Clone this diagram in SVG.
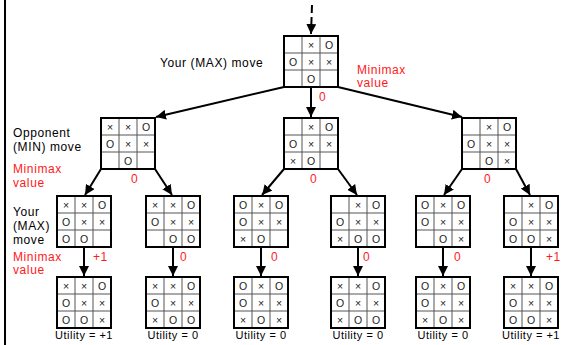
<svg xmlns="http://www.w3.org/2000/svg" width="565" height="345" viewBox="0 0 565 345">
  <defs>
    <style>
      .frame { fill: #fff; stroke: #000; stroke-width: 2; }
      .grid { stroke: #555; stroke-width: 1; fill: none; }
      .mk { font-family: "Liberation Sans", Arial, sans-serif; font-size: 10.5px; fill: #222; text-anchor: middle; }
      .lbl { font-family: "Liberation Sans", Arial, sans-serif; font-size: 12px; letter-spacing: 0.6px; fill: #000; }
      .red { font-family: "Liberation Sans", Arial, sans-serif; font-size: 12px; letter-spacing: 0.6px; fill: #ff1a1a; }
      .util { font-family: "Liberation Sans", Arial, sans-serif; font-size: 11px; letter-spacing: 0.5px; fill: #000; text-anchor: middle; }
      .edge { stroke: #000; stroke-width: 2; fill: none; marker-end: url(#arrow); }
      .dash { stroke-dasharray: 8 4; }
    </style>
    <marker id="arrow" viewBox="0 0 10 10" refX="10" refY="5" markerWidth="5" markerHeight="5" markerUnits="strokeWidth" orient="auto">
      <path d="M0,0 L10,5 L0,10 Z" fill="#000"/>
    </marker>
    <symbol id="board" overflow="visible">
      <rect class="frame" x="0" y="0" width="54" height="51"/>
      <path class="grid" d="M18,1 V50 M36,1 V50 M1,17 H53 M1,34 H53"/>
      <rect x="0" y="0" width="54" height="51" fill="none" stroke="#000" stroke-width="2"/>
    </symbol>
  </defs>

  <!-- page rule on the left -->
  <line x1="5" y1="0" x2="5" y2="345" stroke="#000" stroke-width="2"/>

  <!-- connectors -->
  <g id="connectors">
    <path class="edge dash" d="M312,5 L311,34"/>
    <path class="edge" d="M284,87 L156,117"/>
    <path class="edge" d="M311,87 L311,117"/>
    <path class="edge" d="M338,87 L462,117"/>
    <path class="edge" d="M101,169 L85,195"/>
    <path class="edge" d="M155,169 L172,195"/>
    <path class="edge" d="M284,169 L262,195"/>
    <path class="edge" d="M338,169 L357,195"/>
    <path class="edge" d="M462,169 L444,195"/>
    <path class="edge" d="M516,169 L530,195"/>
    <path class="edge" d="M84,248 V276"/>
    <path class="edge" d="M173,248 V276"/>
    <path class="edge" d="M261,248 V276"/>
    <path class="edge" d="M358,248 V276"/>
    <path class="edge" d="M443,248 V276"/>
    <path class="edge" d="M531,248 V276"/>
  </g>

  <!-- root: your (MAX) move -->
  <g id="root" transform="translate(284,36)">
    <use href="#board"/>
    <text class="mk" x="27" y="12.5">×</text><text class="mk" x="45" y="12.5">O</text>
    <text class="mk" x="9" y="29.5">O</text><text class="mk" x="27" y="29.5">×</text><text class="mk" x="45" y="29.5">×</text>
    <text class="mk" x="27" y="46.5">O</text>
  </g>

  <!-- opponent (MIN) level -->
  <g id="min-left" transform="translate(101,118)">
    <use href="#board"/>
    <text class="mk" x="9" y="12.5">×</text><text class="mk" x="27" y="12.5">×</text><text class="mk" x="45" y="12.5">O</text>
    <text class="mk" x="9" y="29.5">O</text><text class="mk" x="27" y="29.5">×</text><text class="mk" x="45" y="29.5">×</text>
    <text class="mk" x="27" y="46.5">O</text>
  </g>
  <g id="min-mid" transform="translate(284,118)">
    <use href="#board"/>
    <text class="mk" x="27" y="12.5">×</text><text class="mk" x="45" y="12.5">O</text>
    <text class="mk" x="9" y="29.5">O</text><text class="mk" x="27" y="29.5">×</text><text class="mk" x="45" y="29.5">×</text>
    <text class="mk" x="9" y="46.5">×</text><text class="mk" x="27" y="46.5">O</text>
  </g>
  <g id="min-right" transform="translate(462,118)">
    <use href="#board"/>
    <text class="mk" x="27" y="12.5">×</text><text class="mk" x="45" y="12.5">O</text>
    <text class="mk" x="9" y="29.5">O</text><text class="mk" x="27" y="29.5">×</text><text class="mk" x="45" y="29.5">×</text>
    <text class="mk" x="27" y="46.5">O</text><text class="mk" x="45" y="46.5">×</text>
  </g>

  <!-- your (MAX) level -->
  <g id="max-1" transform="translate(57,196)">
    <use href="#board"/>
    <text class="mk" x="9" y="12.5">×</text><text class="mk" x="27" y="12.5">×</text><text class="mk" x="45" y="12.5">O</text>
    <text class="mk" x="9" y="29.5">O</text><text class="mk" x="27" y="29.5">×</text><text class="mk" x="45" y="29.5">×</text>
    <text class="mk" x="9" y="46.5">O</text><text class="mk" x="27" y="46.5">O</text>
  </g>
  <g id="max-2" transform="translate(146,196)">
    <use href="#board"/>
    <text class="mk" x="9" y="12.5">×</text><text class="mk" x="27" y="12.5">×</text><text class="mk" x="45" y="12.5">O</text>
    <text class="mk" x="9" y="29.5">O</text><text class="mk" x="27" y="29.5">×</text><text class="mk" x="45" y="29.5">×</text>
    <text class="mk" x="27" y="46.5">O</text><text class="mk" x="45" y="46.5">O</text>
  </g>
  <g id="max-3" transform="translate(234,196)">
    <use href="#board"/>
    <text class="mk" x="9" y="12.5">O</text><text class="mk" x="27" y="12.5">×</text><text class="mk" x="45" y="12.5">O</text>
    <text class="mk" x="9" y="29.5">O</text><text class="mk" x="27" y="29.5">×</text><text class="mk" x="45" y="29.5">×</text>
    <text class="mk" x="9" y="46.5">×</text><text class="mk" x="27" y="46.5">O</text>
  </g>
  <g id="max-4" transform="translate(331,196)">
    <use href="#board"/>
    <text class="mk" x="27" y="12.5">×</text><text class="mk" x="45" y="12.5">O</text>
    <text class="mk" x="9" y="29.5">O</text><text class="mk" x="27" y="29.5">×</text><text class="mk" x="45" y="29.5">×</text>
    <text class="mk" x="9" y="46.5">×</text><text class="mk" x="27" y="46.5">O</text><text class="mk" x="45" y="46.5">O</text>
  </g>
  <g id="max-5" transform="translate(416,196)">
    <use href="#board"/>
    <text class="mk" x="9" y="12.5">O</text><text class="mk" x="27" y="12.5">×</text><text class="mk" x="45" y="12.5">O</text>
    <text class="mk" x="9" y="29.5">O</text><text class="mk" x="27" y="29.5">×</text><text class="mk" x="45" y="29.5">×</text>
    <text class="mk" x="27" y="46.5">O</text><text class="mk" x="45" y="46.5">×</text>
  </g>
  <g id="max-6" transform="translate(504,196)">
    <use href="#board"/>
    <text class="mk" x="27" y="12.5">×</text><text class="mk" x="45" y="12.5">O</text>
    <text class="mk" x="9" y="29.5">O</text><text class="mk" x="27" y="29.5">×</text><text class="mk" x="45" y="29.5">×</text>
    <text class="mk" x="9" y="46.5">O</text><text class="mk" x="27" y="46.5">O</text><text class="mk" x="45" y="46.5">×</text>
  </g>

  <!-- terminal states -->
  <g id="leaf-1" transform="translate(57,277)">
    <use href="#board"/>
    <text class="mk" x="9" y="12.5">×</text><text class="mk" x="27" y="12.5">×</text><text class="mk" x="45" y="12.5">O</text>
    <text class="mk" x="9" y="29.5">O</text><text class="mk" x="27" y="29.5">×</text><text class="mk" x="45" y="29.5">×</text>
    <text class="mk" x="9" y="46.5">O</text><text class="mk" x="27" y="46.5">O</text><text class="mk" x="45" y="46.5">×</text>
    <text class="util" x="27" y="62">Utility = +1</text>
  </g>
  <g id="leaf-2" transform="translate(146,277)">
    <use href="#board"/>
    <text class="mk" x="9" y="12.5">×</text><text class="mk" x="27" y="12.5">×</text><text class="mk" x="45" y="12.5">O</text>
    <text class="mk" x="9" y="29.5">O</text><text class="mk" x="27" y="29.5">×</text><text class="mk" x="45" y="29.5">×</text>
    <text class="mk" x="9" y="46.5">×</text><text class="mk" x="27" y="46.5">O</text><text class="mk" x="45" y="46.5">O</text>
    <text class="util" x="27" y="62">Utility = 0</text>
  </g>
  <g id="leaf-3" transform="translate(234,277)">
    <use href="#board"/>
    <text class="mk" x="9" y="12.5">O</text><text class="mk" x="27" y="12.5">×</text><text class="mk" x="45" y="12.5">O</text>
    <text class="mk" x="9" y="29.5">O</text><text class="mk" x="27" y="29.5">×</text><text class="mk" x="45" y="29.5">×</text>
    <text class="mk" x="9" y="46.5">×</text><text class="mk" x="27" y="46.5">O</text><text class="mk" x="45" y="46.5">×</text>
    <text class="util" x="27" y="62">Utility = 0</text>
  </g>
  <g id="leaf-4" transform="translate(331,277)">
    <use href="#board"/>
    <text class="mk" x="9" y="12.5">×</text><text class="mk" x="27" y="12.5">×</text><text class="mk" x="45" y="12.5">O</text>
    <text class="mk" x="9" y="29.5">O</text><text class="mk" x="27" y="29.5">×</text><text class="mk" x="45" y="29.5">×</text>
    <text class="mk" x="9" y="46.5">×</text><text class="mk" x="27" y="46.5">O</text><text class="mk" x="45" y="46.5">O</text>
    <text class="util" x="27" y="62">Utility = 0</text>
  </g>
  <g id="leaf-5" transform="translate(416,277)">
    <use href="#board"/>
    <text class="mk" x="9" y="12.5">O</text><text class="mk" x="27" y="12.5">×</text><text class="mk" x="45" y="12.5">O</text>
    <text class="mk" x="9" y="29.5">O</text><text class="mk" x="27" y="29.5">×</text><text class="mk" x="45" y="29.5">×</text>
    <text class="mk" x="9" y="46.5">×</text><text class="mk" x="27" y="46.5">O</text><text class="mk" x="45" y="46.5">×</text>
    <text class="util" x="27" y="62">Utility = 0</text>
  </g>
  <g id="leaf-6" transform="translate(504,277)">
    <use href="#board"/>
    <text class="mk" x="9" y="12.5">×</text><text class="mk" x="27" y="12.5">×</text><text class="mk" x="45" y="12.5">O</text>
    <text class="mk" x="9" y="29.5">O</text><text class="mk" x="27" y="29.5">×</text><text class="mk" x="45" y="29.5">×</text>
    <text class="mk" x="9" y="46.5">O</text><text class="mk" x="27" y="46.5">O</text><text class="mk" x="45" y="46.5">×</text>
    <text class="util" x="27" y="62">Utility = +1</text>
  </g>

  <!-- level captions -->
  <g id="captions">
    <text class="lbl" x="160" y="67">Your (MAX) move</text>
    <text class="red" x="357" y="74">Minimax</text>
    <text class="red" x="357" y="87">value</text>

    <text class="lbl" x="13" y="137">Opponent</text>
    <text class="lbl" x="13" y="151">(MIN) move</text>
    <text class="red" x="13" y="173">Minimax</text>
    <text class="red" x="13" y="187">value</text>

    <text class="lbl" x="13" y="216">Your</text>
    <text class="lbl" x="13" y="230">(MAX)</text>
    <text class="lbl" x="13" y="244">move</text>
    <text class="red" x="13" y="261">Minimax</text>
    <text class="red" x="13" y="274">value</text>
  </g>

  <!-- minimax values -->
  <g id="values">
    <text class="red" x="319" y="101">0</text>
    <text class="red" x="131" y="183">0</text>
    <text class="red" x="310" y="183">0</text>
    <text class="red" x="484" y="183">0</text>
    <text class="red" x="93" y="261">+1</text>
    <text class="red" x="180" y="261">0</text>
    <text class="red" x="271" y="261">0</text>
    <text class="red" x="363" y="261">0</text>
    <text class="red" x="454" y="261">0</text>
    <text class="red" x="546" y="261">+1</text>
  </g>
</svg>
